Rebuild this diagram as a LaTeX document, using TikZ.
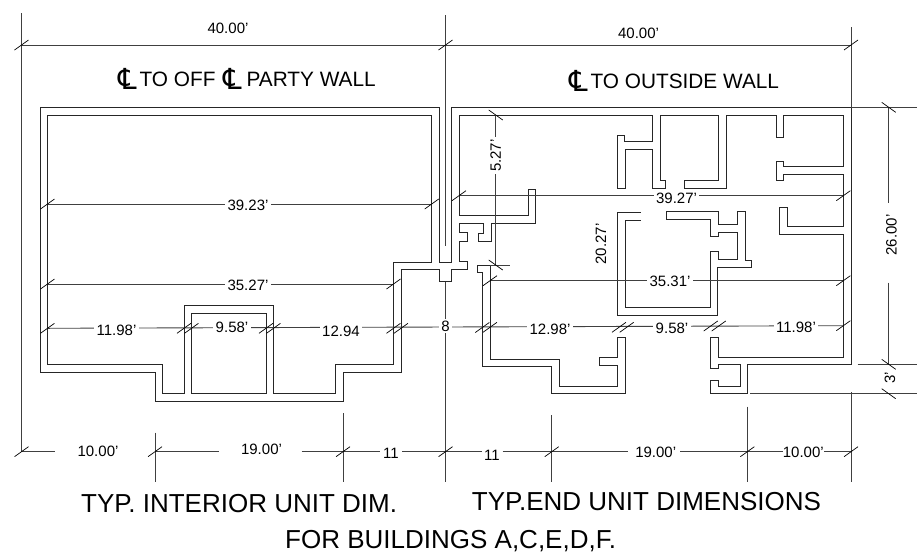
\documentclass[tikz,border=0pt]{standalone}
\usepackage{fontspec}
\setmainfont{Liberation Sans}
\newfontfamily\clfont{DejaVu Sans}
\usetikzlibrary{positioning}
\tikzstyle{wall} = [line width=1pt, draw=black!85]
\tikzstyle{dimline} = [line width=0.9pt, draw=black!75]
\tikzstyle{tick} = [line width=0.7pt, draw=black]
\tikzstyle{lab} = [inner sep=0pt, font=\fontsize{15}{15}\selectfont]
\tikzstyle{gaplab} = [lab, fill=white, inner xsep=2.5pt]
\tikzstyle{title} = [anchor=base west, inner sep=0pt, font=\fontsize{20.8}{20.8}\selectfont]
\tikzstyle{bigtitle} = [anchor=base west, inner sep=0pt, font=\fontsize{26}{26}\selectfont]
\newcommand{\clmark}{\raisebox{-3pt}{\clfont\fontsize{29}{29}\selectfont ℄}\kern-3pt}

\begin{document}
\begin{tikzpicture}[x=1pt,y=-1pt]
    \useasboundingbox (0,0) rectangle (917,552);

    % interior unit walls
    \draw[wall] (47.5,115) -- (431.7,115) -- (431.7,262) -- (393.5,262) -- (393.5,364.3) -- (335.7,364.3) -- (335.7,393.3) -- (273.5,393.3) -- (273.5,305.7) -- (184,305.7) -- (184,393.3) -- (162.7,393.3) -- (162.7,364.3) -- (47.5,364.3) -- cycle;
    \draw[wall] (191.5,313.3) rectangle (266,393.5);
    \draw[wall] (439.3,262.3) -- (439.3,107.5) -- (40,107.5) -- (40,372) -- (155.3,372) -- (155.3,401) -- (343,401) -- (343,372) -- (401,372) -- (401,269.3) -- (439.3,269.3) -- (439.3,281.7) -- (451.7,281.7) -- (451.7,269.3) -- (467.3,269.3) -- (467.3,261.7) -- (459,261.7) -- (459,241.7) -- (467.3,241.7) -- (467.3,232.7) -- (459,232.7) -- (459,223.3) -- (483.3,223.3) -- (483.3,233.3) -- (478.3,233.3) -- (478.3,241) -- (491.7,241) -- (491.7,223.3) -- (535.7,223.3) -- (535.7,189.3) -- (528.3,189.3) -- (528.3,215.7) -- (459,215.7) -- (459,115) -- (652.3,115) -- (652.3,141.7) -- (624.3,141.7) -- (624.3,135.7) -- (617.3,135.7) -- (617.3,188.3) -- (625.3,188.3) -- (625.3,149.3) -- (652.3,149.3) -- (652.3,188.3) -- (665.7,188.3) -- (665.7,180.7) -- (660.3,180.7) -- (660.3,115) -- (718.7,115) -- (718.7,180.7) -- (684.7,180.7) -- (684.7,188.7) -- (726,188.7) -- (726,115) -- (776,115) -- (776,137.7) -- (783.3,137.7) -- (783.3,115) -- (843.3,115) -- (843.3,166.7) -- (783.3,166.7) -- (783.3,161.7) -- (776,161.7) -- (776,180.3) -- (783.3,180.3) -- (783.3,174.3) -- (843.3,174.3) -- (843.3,226.3) -- (787.3,226.3) -- (787.3,207.3) -- (779.3,207.3) -- (779.3,234) -- (843.3,234) -- (843.3,357.3) -- (718.7,357.3) -- (718.7,337.7) -- (710.7,337.7) -- (710.7,368) -- (718.7,368) -- (718.7,364.3) -- (740,364.3) -- (740,386) -- (718.7,386) -- (718.7,380) -- (710.7,380) -- (710.7,393.7) -- (747.3,393.7) -- (747.3,364.3) -- (851,364.3) -- (851,107.3) -- (451.7,107.3) -- (451.7,262.3) -- cycle;

    % end unit walls
    \draw[wall] (477.3,265) -- (490,265) -- (490,359) -- (559.3,359) -- (559.3,386) -- (617.7,386) -- (617.7,365.3) -- (599.3,365.3) -- (599.3,357.3) -- (617.7,357.3) -- (617.7,337.7) -- (625.7,337.7) -- (625.7,393.3) -- (551.7,393.3) -- (551.7,366.7) -- (482.3,366.7) -- (482.3,272.3) -- (477.3,272.3) -- cycle;
    \draw[wall] (640.7,212.7) -- (617.3,212.7) -- (617.3,315) -- (717.7,315) -- (717.7,267.7) -- (751.7,267.7) -- (751.7,260) -- (745.3,260) -- (745.3,211.3) -- (737.7,211.3) -- (737.7,224.3) -- (718.7,224.3) -- (718.7,211.3) -- (666.7,211.3) -- (666.7,219) -- (710.7,219) -- (710.7,236) -- (718.7,236) -- (718.7,232.3) -- (737.7,232.3) -- (737.7,259.7) -- (718.7,259.7) -- (718.7,251.3) -- (710.7,251.3) -- (710.7,307.7) -- (625,307.7) -- (625,220.7) -- (640.7,220.7);

    % extension lines
    \coordinate (ext-1) at (21.5,13);
    \coordinate (ext-2) at (21.5,452);
    \coordinate (ext-3) at (445.5,15);
    \coordinate (ext-4) at (445.5,246);
    \coordinate (ext-5) at (445.5,282);
    \coordinate (ext-6) at (445.5,482);
    \coordinate (ext-7) at (155,432.7);
    \coordinate (ext-8) at (155,482);
    \coordinate (ext-9) at (343,413.3);
    \coordinate (ext-10) at (343,482);
    \coordinate (ext-11) at (551.7,415);
    \coordinate (ext-12) at (551.7,482);
    \coordinate (ext-13) at (747.3,406.7);
    \coordinate (ext-14) at (747.3,482);
    \coordinate (ext-15) at (851,27);
    \coordinate (ext-16) at (851,107.3);
    \coordinate (ext-17) at (851,392);
    \coordinate (ext-18) at (851,482);
    \coordinate (ext-19) at (851,107.3);
    \coordinate (ext-20) at (917,107.3);
    \coordinate (ext-21) at (857.5,364.3);
    \coordinate (ext-22) at (917,364.3);
    \coordinate (ext-23) at (750,393.7);
    \coordinate (ext-24) at (917,393.7);
    \coordinate (ext-25) at (510,265);
    \coordinate (ext-26) at (490,265);
    \draw[dimline] (ext-1) -- (ext-2);
    \draw[dimline] (ext-3) -- (ext-4);
    \draw[dimline] (ext-5) -- (ext-6);
    \draw[dimline] (ext-7) -- (ext-8);
    \draw[dimline] (ext-9) -- (ext-10);
    \draw[dimline] (ext-11) -- (ext-12);
    \draw[dimline] (ext-13) -- (ext-14);
    \draw[dimline] (ext-15) -- (ext-16);
    \draw[dimline] (ext-17) -- (ext-18);
    \draw[dimline] (ext-19) -- (ext-20);
    \draw[dimline] (ext-21) -- (ext-22);
    \draw[dimline] (ext-23) -- (ext-24);
    \draw[dimline] (ext-26) -- (ext-25);

    % dimension points
    \coordinate (top-1) at (21.5,45);
    \coordinate (top-2) at (445.5,45);
    \coordinate (top-3) at (851,45);
    \coordinate (bot-1) at (21.5,451.7);
    \coordinate (bot-2) at (155,451.7);
    \coordinate (bot-3) at (343,451.7);
    \coordinate (bot-4) at (445.5,451.7);
    \coordinate (bot-5) at (551.7,451.7);
    \coordinate (bot-6) at (747.3,451.7);
    \coordinate (bot-7) at (851,451.7);
    \coordinate (gap-1) at (55,451.7);
    \coordinate (gap-2) at (219,451.7);
    \coordinate (gap-3) at (301.7,451.7);
    \coordinate (gap-4) at (380,451.7);
    \coordinate (gap-5) at (402,451.7);
    \coordinate (gap-6) at (481.7,451.7);
    \coordinate (gap-7) at (502.7,451.7);
    \coordinate (gap-8) at (628,451.7);
    \coordinate (gap-9) at (680,451.7);
    \coordinate (gap-10) at (783,451.7);
    \coordinate (gap-11) at (824,451.7);
    \coordinate (gap-12) at (888.7,203);
    \coordinate (gap-13) at (888.7,282.7);
    \coordinate (in-1) at (47.5,204);
    \coordinate (in-2) at (431.7,204);
    \coordinate (in-3) at (47.5,284);
    \coordinate (in-4) at (393.5,284);
    \coordinate (in-5) at (459,195.7);
    \coordinate (in-6) at (843.3,195.7);
    \coordinate (in-7) at (490,280.7);
    \coordinate (in-8) at (843.3,280.7);
    \coordinate (row-1) at (47.5,328.3);
    \coordinate (row-2) at (184,328.3);
    \coordinate (row-3) at (191.5,328.3);
    \coordinate (row-4) at (266,328.3);
    \coordinate (row-5) at (273.5,328.3);
    \coordinate (row-6) at (393.5,328.3);
    \coordinate (row-7) at (401,328.3);
    \coordinate (row-8) at (482.3,327.5);
    \coordinate (row-9) at (490,327.3);
    \coordinate (row-10) at (619,327.3);
    \coordinate (row-11) at (626.7,327.3);
    \coordinate (row-12) at (710.7,326);
    \coordinate (row-13) at (718.7,326);
    \coordinate (row-14) at (843.3,325.7);
    \coordinate (sid-1) at (888.7,107.3);
    \coordinate (sid-2) at (888.7,364.3);
    \coordinate (sid-3) at (888.7,393.7);
    \coordinate (sid-4) at (495.7,115);
    \coordinate (sid-5) at (495.7,265);

    \draw[dimline] (top-1) -- (top-3);
    \draw[dimline] (bot-1) -- (gap-1);
    \draw[dimline] (bot-2) -- (gap-2);
    \draw[dimline] (gap-3) -- (gap-4);
    \draw[dimline] (gap-5) -- (gap-6);
    \draw[dimline] (gap-7) -- (gap-8);
    \draw[dimline] (gap-9) -- (gap-10);
    \draw[dimline] (gap-11) -- (bot-7);
    \draw[dimline] (in-1) -- (in-2);
    \draw[dimline] (in-3) -- (in-4);
    \draw[dimline] (in-5) -- (in-6);
    \draw[dimline] (in-7) -- (in-8);
    \draw[dimline] (row-1) -- (row-14);
    \draw[dimline] (sid-1) -- (gap-12);
    \draw[dimline] (gap-13) -- (sid-2);
    \draw[dimline] (sid-4) -- (sid-5);

    \draw[tick] (top-1) +(-7,5) -- +(7,-5);
    \draw[tick] (top-2) +(-7,5) -- +(7,-5);
    \draw[tick] (top-3) +(-7,5) -- +(7,-5);
    \draw[tick] (bot-1) +(-7,5) -- +(7,-5);
    \draw[tick] (bot-2) +(-7,5) -- +(7,-5);
    \draw[tick] (bot-3) +(-7,5) -- +(7,-5);
    \draw[tick] (bot-4) +(-7,5) -- +(7,-5);
    \draw[tick] (bot-5) +(-7,5) -- +(7,-5);
    \draw[tick] (bot-6) +(-7,5) -- +(7,-5);
    \draw[tick] (bot-7) +(-7,5) -- +(7,-5);
    \draw[tick] (in-1) +(-7,5) -- +(7,-5);
    \draw[tick] (in-2) +(-7,5) -- +(7,-5);
    \draw[tick] (in-3) +(-7,5) -- +(7,-5);
    \draw[tick] (in-4) +(-7,5) -- +(7,-5);
    \draw[tick] (in-5) +(-7,5) -- +(7,-5);
    \draw[tick] (in-6) +(-7,5) -- +(7,-5);
    \draw[tick] (in-7) +(-7,5) -- +(7,-5);
    \draw[tick] (in-8) +(-7,5) -- +(7,-5);
    \draw[tick] (row-1) +(-7,5) -- +(7,-5);
    \draw[tick] (row-2) +(-7,5) -- +(7,-5);
    \draw[tick] (row-3) +(-7,5) -- +(7,-5);
    \draw[tick] (row-4) +(-7,5) -- +(7,-5);
    \draw[tick] (row-5) +(-7,5) -- +(7,-5);
    \draw[tick] (row-6) +(-7,5) -- +(7,-5);
    \draw[tick] (row-7) +(-7,5) -- +(7,-5);
    \draw[tick] (row-8) +(-7,5) -- +(7,-5);
    \draw[tick] (row-9) +(-7,5) -- +(7,-5);
    \draw[tick] (row-10) +(-7,5) -- +(7,-5);
    \draw[tick] (row-11) +(-7,5) -- +(7,-5);
    \draw[tick] (row-12) +(-7,5) -- +(7,-5);
    \draw[tick] (row-13) +(-7,5) -- +(7,-5);
    \draw[tick] (row-14) +(-7,5) -- +(7,-5);
    \draw[tick] (sid-1) +(-7,-5) -- +(7,5);
    \draw[tick] (sid-2) +(-7,-5) -- +(7,5);
    \draw[tick] (sid-3) +(-7,-5) -- +(7,5);
    \draw[tick] (sid-4) +(-7,-5) -- +(7,5);
    \draw[tick] (sid-5) +(-7,-5) -- +(7,5);

    % dimension labels
    \node[lab] (lab-1) at (228,28) {40.00'};
    \node[lab] (lab-2) at (638.5,33) {40.00'};
    \node[gaplab] (lab-3) at (248,205) {39.23'};
    \node[gaplab] (lab-4) at (248,285) {35.27'};
    \node[gaplab] (lab-5) at (116.5,330) {11.98'};
    \node[gaplab] (lab-6) at (232,327) {9.58'};
    \node[gaplab] (lab-7) at (341,331) {12.94};
    \node[gaplab, inner ysep=2pt] (lab-8) at (445.5,326) {8};
    \node[gaplab] (lab-9) at (550,329) {12.98'};
    \node[gaplab] (lab-10) at (672,328) {9.58'};
    \node[gaplab] (lab-11) at (796,327) {11.98'};
    \node[gaplab] (lab-12) at (676.5,198) {39.27'};
    \node[gaplab] (lab-13) at (670,281) {35.31'};
    \node[lab] (lab-14) at (98,451.7) {10.00'};
    \node[lab] (lab-15) at (261.5,449) {19.00'};
    \node[lab] (lab-16) at (391,453) {11};
    \node[lab] (lab-17) at (492,455) {11};
    \node[lab] (lab-18) at (655.7,452) {19.00'};
    \node[lab] (lab-19) at (803.3,452) {10.00'};
    \node[gaplab, rotate=90] (lab-20) at (495.7,155.7) {5.27'};
    \node[lab, rotate=90] (lab-21) at (601,244) {20.27'};
    \node[lab, rotate=90] (lab-22) at (891.5,235) {26.00'};
    \node[lab, rotate=90] (lab-23) at (890,378) {3'};

    % titles
    \node[title] (title-1) at (118,86) {\clmark\ TO OFF\hspace{8pt}\clmark\hspace{7.5pt}PARTY WALL};
    \node[title] (title-2) at (569,88) {\clmark\ TO OUTSIDE WALL};
    \node[bigtitle] (title-3) at (81,512.7) {TYP. INTERIOR UNIT DIM.};
    \node[bigtitle] (title-4) at (471.7,510) {TYP.END UNIT DIMENSIONS};
    \node[bigtitle] (title-5) at (285,548) {FOR BUILDINGS A,C,E,D,F.};
\end{tikzpicture}
\end{document}
